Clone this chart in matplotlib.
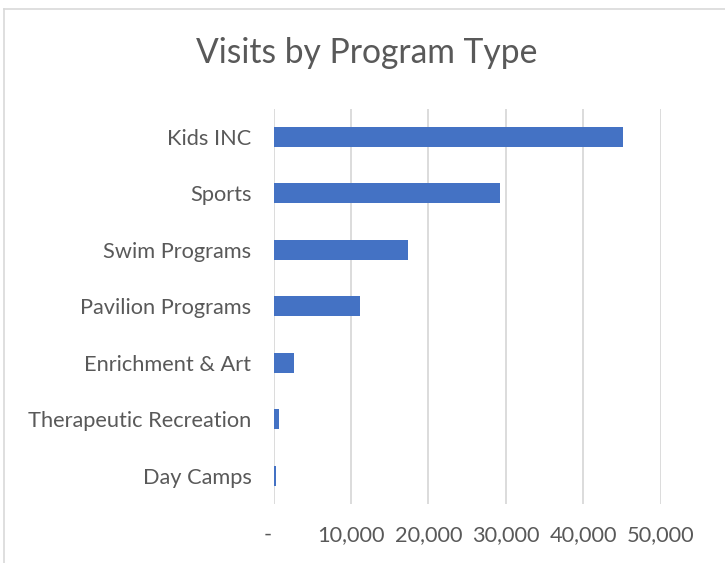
import matplotlib.pyplot as plt
from matplotlib.lines import Line2D
from matplotlib.ticker import FuncFormatter

# data
programs = ["Kids INC", "Sports", "Swim Programs", "Pavilion Programs",
            "Enrichment & Art", "Therapeutic Recreation", "Day Camps"]
visits = [45170, 29240, 17350, 11150, 2620, 650, 260]
x_ticks = [0, 10000, 20000, 30000, 40000, 50000]

plt.rcParams['font.family'] = ['Lato', 'DejaVu Sans']
text_col = "#595959"
bar_col = "#4472C4"
grid_col = "#D9D9D9"

fig = plt.figure(figsize=(7.25, 5.63), dpi=100)
ax = fig.add_axes([0.3775, 0.1048, 0.5338, 0.702])

y = list(range(len(programs)))
ax.barh(y, visits, height=0.355, color=bar_col, zorder=3)
ax.set_yticks(y)
ax.set_yticklabels(programs)
ax.set_ylim(len(programs) - 0.5, -0.5)

ax.set_xlim(0, 50000)
ax.set_xticks(x_ticks)
# accounting style: zero shows as a dash sitting a little left of the axis
ax.xaxis.set_major_formatter(FuncFormatter(lambda v, p: "-  " if v == 0 else f"{int(v):,}"))
ax.grid(axis="x", color=grid_col, linewidth=1.3, zorder=0)

for s in ax.spines.values():
    s.set_visible(False)
ax.tick_params(axis="both", length=0, colors=text_col, labelsize=15.7)
ax.tick_params(axis="y", pad=16)
ax.tick_params(axis="x", pad=15)

fig.text(0.506, 1 - 53 / 563, "Visits by Program Type", ha="center", va="center",
         fontsize=24.2, color=text_col)

# chart frame (only left and top edges visible in the crop)
fig.add_artist(Line2D([4 / 725, 4 / 725], [0, 1 - 9 / 563], color=grid_col, linewidth=1.2,
                      transform=fig.transFigure))
fig.add_artist(Line2D([4 / 725, 1], [1 - 9 / 563, 1 - 9 / 563], color=grid_col, linewidth=1.2,
                      transform=fig.transFigure))

fig.savefig("out.png", dpi=100)
